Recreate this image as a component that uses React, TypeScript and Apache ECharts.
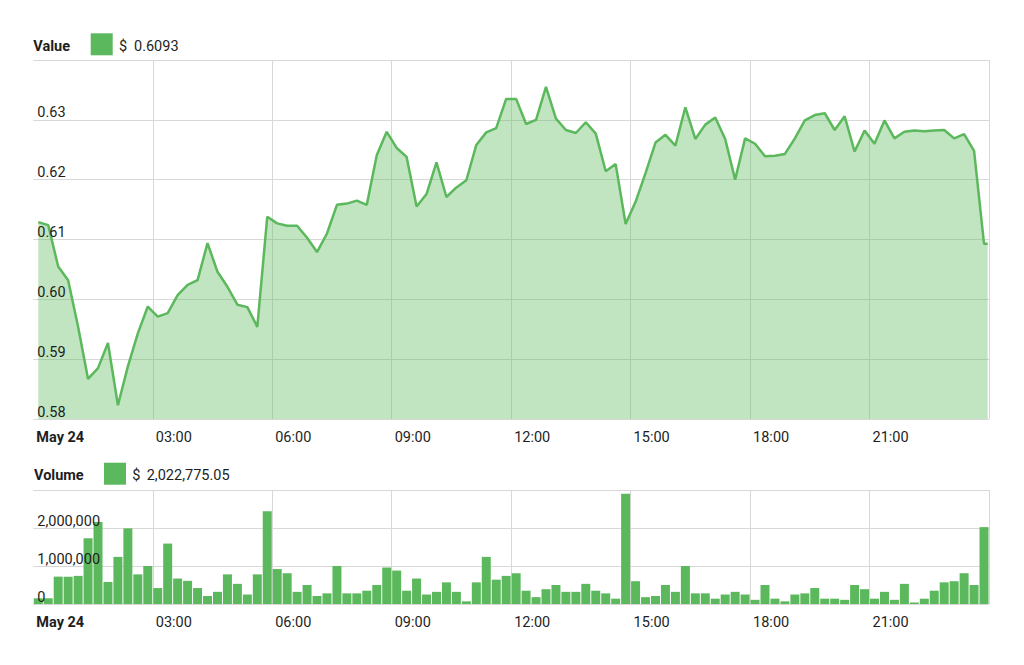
import React, { useEffect, useRef } from "react";
import * as echarts from "echarts";

// 15-minute slots of May 24
const slots: string[] = Array.from({ length: 96 }, (_, i) => {
  const m = i * 15;
  return `${String(Math.floor(m / 60)).padStart(2, "0")}:${String(m % 60).padStart(2, "0")}`;
});

const tickLabels = ["May 24", "03:00", "06:00", "09:00", "12:00", "15:00", "18:00", "21:00"];

// Price (USD) per slot
const priceValues = [
  0.6129, 0.6124, 0.6055, 0.6032, 0.5954, 0.5867, 0.5885, 0.5927, 0.5823, 0.5888,
  0.5943, 0.5988, 0.5971, 0.5977, 0.6007, 0.6024, 0.6032, 0.6094, 0.6046, 0.6021,
  0.5991, 0.5987, 0.5954, 0.6138, 0.6127, 0.6123, 0.6123, 0.6103, 0.6079, 0.611,
  0.6158, 0.616, 0.6165, 0.6158, 0.6241, 0.628, 0.6253, 0.6238, 0.6155, 0.6176,
  0.6229, 0.6171, 0.6187, 0.6199, 0.6258, 0.6279, 0.6286, 0.6335, 0.6335, 0.6293,
  0.63, 0.6355, 0.6302, 0.6283, 0.6278, 0.6296, 0.6277, 0.6214, 0.6226, 0.6126,
  0.6163, 0.6211, 0.6262, 0.6275, 0.6257, 0.6321, 0.6268, 0.6292, 0.6304, 0.6268,
  0.62, 0.6269, 0.626, 0.6239, 0.624, 0.6243, 0.6269, 0.6299, 0.6308, 0.6311,
  0.6283, 0.6306, 0.6247, 0.6282, 0.626, 0.6299, 0.6269, 0.628, 0.6282, 0.6281,
  0.6282, 0.6283, 0.6269, 0.6276, 0.6248, 0.6093,
];
const currentTime = "23:58";
const currentValue = 0.6093;

// Volume (USD) per slot
const volumeValues = [
  150000, 150000, 720000, 720000, 740000, 1730000, 2160000, 580000, 1240000, 1990000,
  780000, 1000000, 420000, 1590000, 670000, 610000, 420000, 210000, 320000, 780000,
  530000, 250000, 780000, 2440000, 920000, 810000, 320000, 500000, 210000, 280000,
  1000000, 280000, 280000, 350000, 500000, 960000, 880000, 350000, 670000, 250000,
  320000, 570000, 320000, 70000, 570000, 1240000, 640000, 740000, 810000, 350000,
  180000, 390000, 500000, 320000, 320000, 530000, 350000, 280000, 140000, 2900000,
  600000, 180000, 210000, 500000, 320000, 1000000, 280000, 280000, 140000, 250000,
  320000, 250000, 110000, 500000, 140000, 70000, 250000, 280000, 420000, 140000,
  140000, 110000, 500000, 390000, 140000, 320000, 110000, 530000, 40000, 140000,
  350000, 570000, 600000, 810000, 500000, 2022775.05,
];

const GREEN = "#5cb85c";
const FONT = 'Roboto, "Helvetica Neue", Arial, sans-serif';
const FS = 14.5;
const TEXT = "#1e1e1e";
const GRID_COLOR = "#d8d8d8";

const toHour = (t: string) => {
  const [h, m] = t.split(":").map(Number);
  return h + m / 60;
};

export default function App() {
  const ref = useRef<HTMLDivElement>(null);

  useEffect(() => {
    if (!ref.current) return;
    const chart = echarts.init(ref.current, undefined, { renderer: "svg" });

    const priceData: [number, number][] = priceValues.map((v, i) => [toHour(slots[i]) + 0.125, v]);
    priceData.push([toHour(currentTime), currentValue]);
    const volumeData: [number, number][] = volumeValues.map((v, i) => [toHour(slots[i]) + 0.125, v]);

    const lastVolume = volumeValues[volumeValues.length - 1];
    const volText = lastVolume.toLocaleString("en-US", { minimumFractionDigits: 2, maximumFractionDigits: 2 });

    const xAxisBase = (gridIndex: number) => ({
      type: "value" as const,
      gridIndex,
      min: 0,
      max: 24,
      interval: 3,
      axisLine: { show: false },
      axisTick: { show: false },
      splitLine: { show: true, showMinLine: false, lineStyle: { color: GRID_COLOR, width: 1 } },
      axisLabel: {
        showMaxLabel: false,
        align: "left",
        margin: 11,
        padding: [0, 0, 0, 3],
        color: TEXT,
        fontFamily: FONT,
        fontSize: FS,
        formatter: (v: number) => {
          const idx = Math.round(v / 3);
          if (idx === 0) return `{b|${tickLabels[0]}}`;
          return tickLabels[idx] ?? "";
        },
        rich: { b: { fontWeight: "bold", fontSize: FS, fontFamily: FONT, color: TEXT } },
      },
    });

    const yGridAxis = (gridIndex: number, min: number, max: number, interval: number) => ({
      type: "value" as const,
      gridIndex,
      min,
      max,
      interval,
      axisLine: { show: false },
      axisTick: { show: false },
      axisLabel: { show: false },
      splitLine: { show: true, lineStyle: { color: GRID_COLOR, width: 1 } },
    });

    const yLabelAxis = (gridIndex: number, min: number, max: number, interval: number, fmt: (v: number) => string) => ({
      type: "value" as const,
      gridIndex,
      min,
      max,
      interval,
      z: 10,
      position: "left" as const,
      axisLine: { show: false },
      axisTick: { show: false },
      splitLine: { show: false },
      axisLabel: {
        inside: true,
        showMaxLabel: false,
        margin: 4,
        verticalAlign: "bottom",
        lineHeight: 14,
        color: TEXT,
        fontFamily: FONT,
        fontSize: FS,
        formatter: fmt,
      },
    });

    chart.setOption({
      animation: false,
      textStyle: { fontFamily: FONT },
      grid: [
        { left: 33.3, right: 35, top: 60, height: 359 },
        { left: 33.3, right: 35, top: 490, height: 114 },
      ],
      xAxis: [xAxisBase(0), xAxisBase(1)],
      yAxis: [
        yGridAxis(0, 0.58, 0.64, 0.01),
        yLabelAxis(0, 0.58, 0.64, 0.01, (v: number) => v.toFixed(2)),
        yGridAxis(1, 0, 3000000, 1000000),
        yLabelAxis(1, 0, 3000000, 1000000, (v: number) => v.toLocaleString("en-US")),
      ],
      series: [
        {
          name: "Value",
          type: "line",
          xAxisIndex: 0,
          yAxisIndex: 0,
          data: priceData,
          showSymbol: false,
          symbol: "none",
          lineStyle: { color: GREEN, width: 2.5 },
          itemStyle: { color: GREEN },
          areaStyle: { color: "rgba(92,184,92,0.38)", opacity: 1, origin: "start" },
        },
        {
          name: "Volume",
          type: "bar",
          xAxisIndex: 1,
          yAxisIndex: 2,
          data: volumeData,
          barWidth: 9,
          itemStyle: { color: GREEN },
        },
      ],
      graphic: [
        { type: "text", x: 33.3, y: 46, style: { text: "Value", font: `bold ${FS}px ${FONT}`, fill: TEXT, verticalAlign: "middle" } },
        { type: "rect", shape: { x: 90.7, y: 33.3, width: 22, height: 22 }, style: { fill: GREEN } },
        { type: "text", x: 119, y: 46, style: { text: "$", font: `${FS}px ${FONT}`, fill: TEXT, verticalAlign: "middle" } },
        { type: "text", x: 134, y: 46, style: { text: currentValue.toFixed(4), font: `${FS}px ${FONT}`, fill: TEXT, verticalAlign: "middle" } },
        { type: "text", x: 34, y: 475, style: { text: "Volume", font: `bold ${FS}px ${FONT}`, fill: TEXT, verticalAlign: "middle" } },
        { type: "rect", shape: { x: 104, y: 462.7, width: 22, height: 22 }, style: { fill: GREEN } },
        { type: "text", x: 132.3, y: 475, style: { text: "$", font: `${FS}px ${FONT}`, fill: TEXT, verticalAlign: "middle" } },
        { type: "text", x: 146.7, y: 475, style: { text: volText, font: `${FS}px ${FONT}`, fill: TEXT, verticalAlign: "middle" } },
      ],
    });

    return () => chart.dispose();
  }, []);

  return (
    <div
      ref={ref}
      style={{ position: "fixed", left: 0, top: 0, width: 1024, height: 665, background: "#fff" }}
    />
  );
}
